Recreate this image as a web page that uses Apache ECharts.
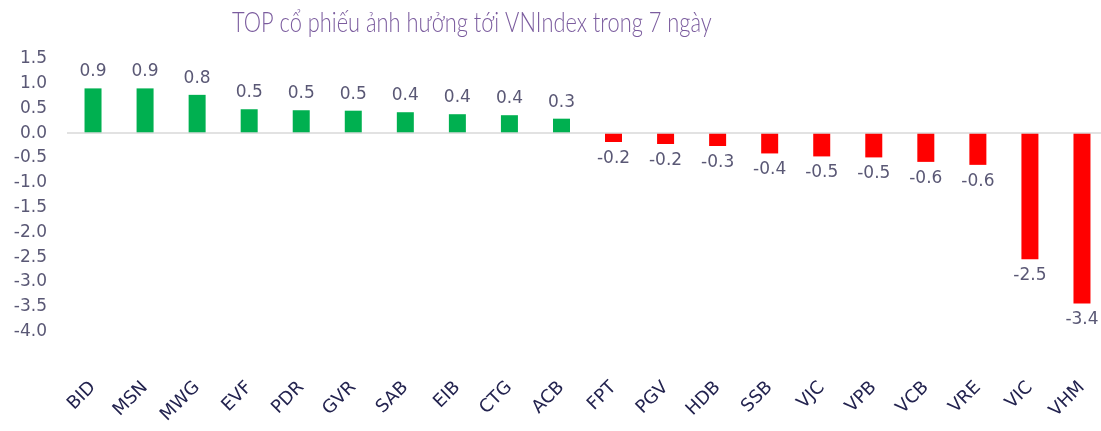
<!DOCTYPE html>
<html>
<head>
<meta charset="utf-8">
<script src="https://cdn.jsdelivr.net/npm/echarts@6/dist/echarts.min.js"></script>
<style>
  html, body { margin: 0; padding: 0; background: #fff; }
  #chart { width: 1101px; height: 431px; }
</style>
</head>
<body>
<div id="chart"></div>
<script>
// ---------- data ----------
const tickers = ['BID', 'MSN', 'MWG', 'EVF', 'PDR', 'GVR', 'SAB', 'EIB', 'CTG', 'ACB',
  'FPT', 'PGV', 'HDB', 'SSB', 'VJC', 'VPB', 'VCB', 'VRE', 'VIC', 'VHM'];
const impact = [0.90, 0.90, 0.77, 0.48, 0.46, 0.451, 0.42, 0.38, 0.36, 0.29,
  -0.18, -0.22, -0.26, -0.41, -0.47, -0.49, -0.58, -0.64, -2.54, -3.43];
const titleText = 'TOP cổ phiếu ảnh hưởng tới VNIndex trong 7 ngày';

const FONT = 'DejaVu Sans';
const GREEN = '#00b050';
const RED = '#ff0000';
const TXT = '#5a5875';

const chart = echarts.init(document.getElementById('chart'), null, { renderer: 'canvas' });

chart.setOption({
  backgroundColor: '#fff',
  animation: false,
  // title drawn as graphic text so it can be squeezed to the narrow face of the original
  graphic: [{
    type: 'text',
    left: 232,
    top: 9,
    scaleX: 0.78,
    silent: true,
    style: {
      text: titleText,
      fill: '#7b5c9e',
      fontSize: 28,
      fontWeight: 300,
      fontFamily: 'Lato',
    },
  }],
  // the plot runs a little past the right edge, as in the original
  grid: { left: 67, width: 1041, top: 58.6, bottom: 99.3, containLabel: false, outerBoundsMode: 'none' },
  xAxis: {
    type: 'category',
    data: tickers,
    axisLine: { show: false, onZero: false },
    axisTick: { show: false },
    axisLabel: {
      rotate: 45,
      margin: 53,
      interval: 0,
      color: '#23234f',
      fontSize: 18,
      fontFamily: FONT,
    },
  },
  yAxis: {
    type: 'value',
    min: -4,
    max: 1.5,
    interval: 0.5,
    axisLine: { show: false },
    axisTick: { show: false },
    splitLine: { show: false },
    axisLabel: {
      margin: 20,
      color: TXT,
      fontSize: 17,
      fontFamily: FONT,
      formatter: v => v.toFixed(1),
    },
  },
  series: [{
    type: 'bar',
    barWidth: 17,
    data: impact.map(v => ({
      value: v,
      itemStyle: { color: v >= 0 ? GREEN : RED },
      label: { position: v >= 0 ? 'top' : 'bottom' },
    })),
    label: {
      show: true,
      distance: 8,
      color: TXT,
      fontSize: 17,
      fontFamily: FONT,
      formatter: p => p.value.toFixed(1),
    },
    markLine: {
      silent: true,
      symbol: 'none',
      label: { show: false },
      lineStyle: { color: '#d9d9d9', width: 1.5, type: 'solid' },
      data: [{ yAxis: 0 }],
    },
  }],
});
</script>
</body>
</html>
